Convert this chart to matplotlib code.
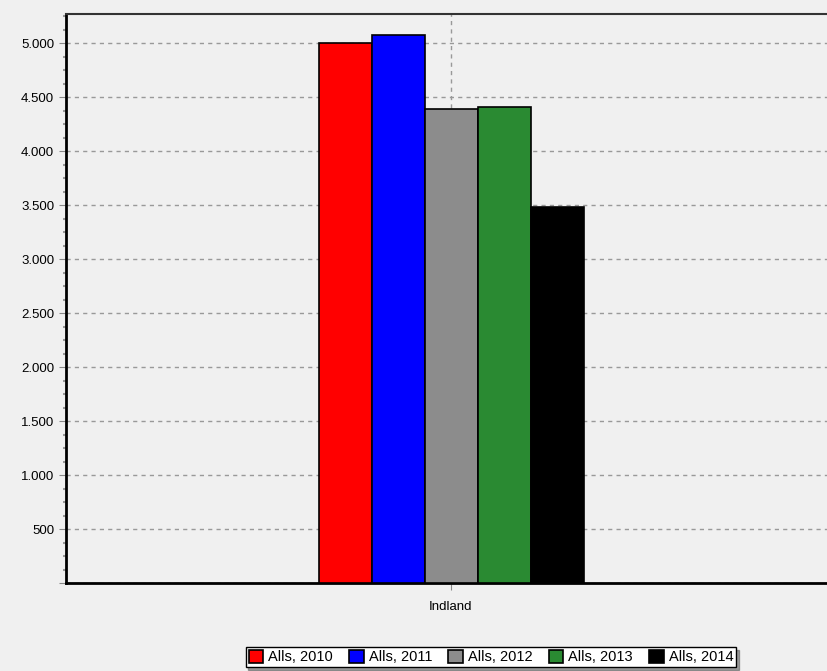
import numpy as np
import matplotlib.pyplot as plt
from matplotlib.ticker import MultipleLocator, FuncFormatter

# Data
category = ["Indland"]
series = ["Alls, 2010", "Alls, 2011", "Alls, 2012", "Alls, 2013", "Alls, 2014"]
values = [5000, 5075, 4390, 4405, 3485]
colors = ["#ff0000", "#0000ff", "#8c8c8c", "#2a8a32", "#000000"]

plt.rcParams['font.family'] = ['Liberation Sans Narrow', 'Liberation Sans', 'DejaVu Sans']

fig = plt.figure(figsize=(8.27, 6.71), dpi=100, facecolor="#f0f0f0")
ax = fig.add_axes([66 / 827, 88 / 671, 770 / 827, 569 / 671])
ax.set_facecolor("#f0f0f0")

width = 53 / 770
x = np.arange(len(category))
for i, (name, val, col) in enumerate(zip(series, values, colors)):
    ax.bar(x + (i - 2) * width, [val], width=width, color=col,
           edgecolor="black", linewidth=1.2, label=name, zorder=3)

ax.set_xlim(-0.5, 0.5)
ax.set_ylim(0, 5270)
ax.set_xticks(x)
ax.set_xticklabels(category, fontsize=9)

ax.yaxis.set_major_locator(MultipleLocator(500))
ax.yaxis.set_minor_locator(MultipleLocator(125))
ax.yaxis.set_major_formatter(FuncFormatter(
    lambda v, p: "" if v == 0 else f"{int(v):,}".replace(",", ".")))
ax.tick_params(axis="y", which="major", labelsize=9.5, length=5, color="#888888")
ax.tick_params(axis="y", which="minor", length=2, width=1.5, color="#999999")
ax.tick_params(axis="x", labelsize=9.5, length=5, color="#888888", pad=8)

ax.grid(True, axis="both", which="major", linestyle=(0, (3, 3)),
        color="#999999", linewidth=1, zorder=0)

for side in ["left", "bottom"]:
    ax.spines[side].set_linewidth(2)
    ax.spines[side].set_color("black")
ax.spines["top"].set_linewidth(1.5)
ax.spines["top"].set_color("#333333")
ax.spines["right"].set_visible(False)

leg = fig.legend(loc="center", bbox_to_anchor=(491 / 827, 14 / 671), ncol=5,
                 fontsize=10.5, frameon=True, fancybox=False, shadow=True,
                 handlelength=1.0, handleheight=1.0, handletextpad=0.35,
                 columnspacing=1.1, borderpad=0.2, borderaxespad=0)
leg.get_frame().set_edgecolor("black")
leg.get_frame().set_facecolor("white")
leg.get_frame().set_alpha(1)

fig.savefig("out.png", dpi=100, facecolor=fig.get_facecolor())
